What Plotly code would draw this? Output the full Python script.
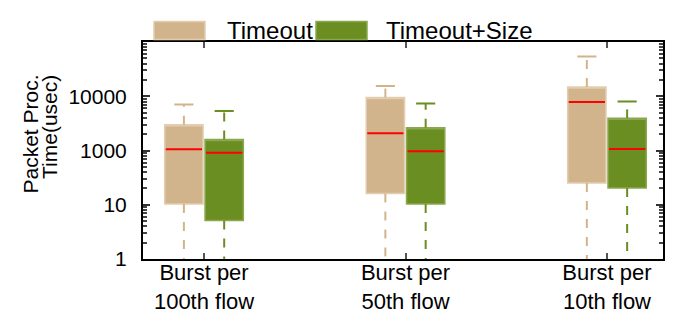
import plotly.graph_objects as go

# categories and box statistics (usec)
groups = ["Burst per<br>100th flow", "Burst per<br>50th flow", "Burst per<br>10th flow"]
positions = [1, 2, 3]

timeout_low = [1, 1, 1]
timeout_q1 = [10.3, 16.2, 25.2]
timeout_med = [106, 209, 785]
timeout_q3 = [299, 946, 1487]
timeout_high = [702, 1550, 5430]

size_low = [1, 1, 1]
size_q1 = [5.1, 10.3, 20.4]
size_med = [91, 97, 107]
size_q3 = [160, 263, 391]
size_high = [534, 733, 797]

y_tickvals = [1, 10, 100, 1000]
y_ticktext = ["1", "10", "1000", "10000"]

TAN = "#D2B48C"
TAN_EDGE = "#E2CDB0"
GREEN = "#6B8E23"
GREEN_EDGE = "#8AA84E"
FONT = "Liberation Sans, Arial, sans-serif"

BOX_W = 0.19
OFFSET = 0.1

# the page body adds an 8px margin, so the figure is shrunk by that much
PAGE = 8
W, H = 676 - PAGE, 325 - PAGE
L, R, T, B = 143 - PAGE, 13, 42 - PAGE, 66
PW, PH = W - L - R, H - T - B


def px(x):
    # reference pixel -> paper x
    return (x - PAGE - L) / PW


def py(y):
    # reference pixel -> paper y
    return (H - B - (y - PAGE)) / PH


fig = go.Figure()


def add_series(name, offset, low, q1, med, q3, high, fill, edge):
    xs = [p + offset for p in positions]
    # box body
    fig.add_trace(go.Box(
        name=name, x=xs, q1=q1, median=q3, q3=q3,
        lowerfence=q1, upperfence=q3, width=BOX_W,
        fillcolor=fill, line=dict(color=edge, width=1.5),
        whiskerwidth=0, showlegend=False,
    ))
    # red median
    fig.add_trace(go.Box(
        x=xs, q1=med, median=med, q3=med, lowerfence=med, upperfence=med,
        width=BOX_W - 0.01, fillcolor="rgba(0,0,0,0)",
        line=dict(color="red", width=2), whiskerwidth=0, showlegend=False,
    ))
    # upper caps
    fig.add_trace(go.Box(
        x=xs, q1=high, median=high, q3=high, lowerfence=high, upperfence=high,
        width=BOX_W / 2, fillcolor="rgba(0,0,0,0)",
        line=dict(color=fill, width=2), whiskerwidth=0, showlegend=False,
    ))
    # dashed whiskers
    wx, wy = [], []
    for x, a, b, c, d in zip(xs, low, q1, q3, high):
        wx += [x, x, None, x, x, None]
        wy += [c, d, None, b, a, None]
    fig.add_trace(go.Scatter(
        x=wx, y=wy, mode="lines", showlegend=False,
        line=dict(color=fill, width=2, dash="9px,9px"),
    ))


add_series("Timeout", -OFFSET, timeout_low, timeout_q1, timeout_med,
           timeout_q3, timeout_high, TAN, TAN_EDGE)
add_series("Timeout+Size", OFFSET, size_low, size_q1, size_med,
           size_q3, size_high, GREEN, GREEN_EDGE)

# legend drawn above the frame
legend_items = [("Timeout", TAN, TAN_EDGE, 154, 227),
                ("Timeout+Size", GREEN, GREEN_EDGE, 316, 386)]
for label, fill, edge, sx, tx in legend_items:
    fig.add_shape(type="rect", xref="paper", yref="paper",
                  x0=px(sx), x1=px(sx + 51), y0=py(39.5), y1=py(21.5),
                  fillcolor=fill, line=dict(color=edge, width=1.5))
    fig.add_annotation(text=label, xref="paper", yref="paper",
                       x=px(tx - 2), y=py(30.5),
                       xanchor="left", yanchor="middle", showarrow=False,
                       font=dict(size=24, color="black", family=FONT))

# two-line y title with tight line spacing
for line, cx in [("Packet Proc.", 30), ("Time(usec)", 49)]:
    fig.add_annotation(text=line, xref="paper", yref="paper",
                       x=px(cx), y=py(73), textangle=-90,
                       xanchor="center", yanchor="top", showarrow=False,
                       font=dict(size=21, color="black", family=FONT))

fig.update_layout(
    width=W, height=H,
    margin=dict(l=L, r=R, t=T, b=B),
    paper_bgcolor="white", plot_bgcolor="white",
    font=dict(family=FONT, color="black"),
    boxmode="overlay", showlegend=False,
)
fig.update_xaxes(
    range=[0.697, 3.278], tickvals=positions, ticktext=groups,
    tickfont=dict(size=22), showgrid=False, zeroline=False, automargin=False,
    showline=True, linecolor="black", linewidth=2, mirror="ticks",
    ticks="inside", ticklen=6, tickcolor="#555", tickwidth=1.5,
    ticklabelstandoff=-7,
)
fig.update_yaxes(
    type="log", range=[0, 4], tickvals=y_tickvals, ticktext=y_ticktext,
    tickfont=dict(size=21), showgrid=False, zeroline=False, automargin=False,
    showline=True, linecolor="black", linewidth=2, mirror="ticks",
    ticks="inside", ticklen=7, tickcolor="#333", tickwidth=1.5,
    ticklabelstandoff=10,
    minor=dict(ticks="inside", ticklen=4, tickcolor="#444", dtick="D1",
               showgrid=False),
)

fig.write_html("out.html")
